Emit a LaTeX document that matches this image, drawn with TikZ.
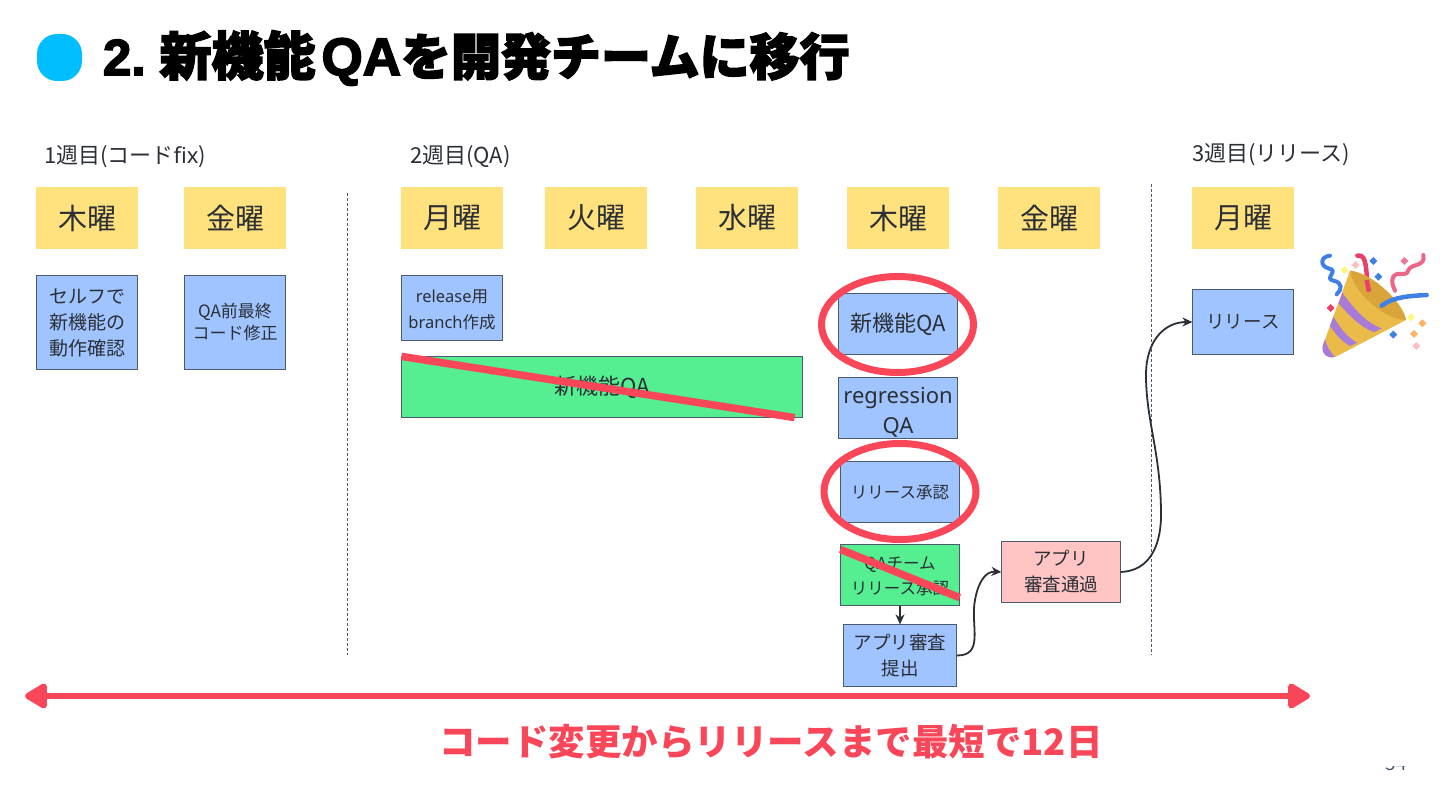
\documentclass[tikz,border=0pt]{standalone}
\usepackage{fontspec}
\setmainfont{Noto Sans CJK JP}
\newfontfamily\lat{Noto Sans}
\newfontfamily\ttlfont[BoldFeatures={FakeBold=3}]{Noto Sans CJK JP}
\newfontfamily\ttllat[BoldFeatures={FakeBold=3}]{Liberation Sans}
\usetikzlibrary{positioning,arrows.meta,shapes.geometric}
\definecolor{dayyellow}{HTML}{FFE17D}
\definecolor{taskblue}{HTML}{9FC4FF}
\definecolor{qagreen}{HTML}{55EE90}
\definecolor{passpink}{HTML}{FFC4C4}
\definecolor{markred}{HTML}{FA4659}
\definecolor{edgegray}{HTML}{4C5A6E}
\definecolor{textgray}{HTML}{2B2F36}
\definecolor{dotblue}{HTML}{00BEFF}
\definecolor{gold}{HTML}{EBBB4A}
\definecolor{golddark}{HTML}{D9A53A}
\definecolor{popviolet}{HTML}{A97BD8}
\definecolor{popblue}{HTML}{3F80E4}
\definecolor{popred}{HTML}{E8406A}
\newcommand{\fsize}[2]{\fontsize{#1}{#2}\selectfont}
\newcommand{\tx}[2][2]{\raisebox{-#1pt}[\height][\depth]{\begin{tabular}{@{}c@{}}#2\end{tabular}}}

\begin{document}
\begin{tikzpicture}[
x=1pt,y=-1pt,
>={Stealth[length=10pt,width=9pt]},
every node/.style={inner sep=0pt,outer sep=0pt,text=textgray},
daybox/.style={fill=dayyellow,minimum width=102pt,minimum height=62pt,font=\fsize{29}{34}},
taskbox/.style={draw=edgegray,line width=0.8pt,fill=#1},
taskbox/.default=taskblue,
sz/.style 2 args={minimum width=#1pt-0.8pt,minimum height=#2pt-0.8pt},
weeklabel/.style={anchor=west,font=\fsize{22}{26}},
divider/.style={densely dashed,draw=edgegray,line width=0.8pt},
conn/.style={->,draw=textgray,line width=1.8pt},
ring/.style={draw=markred,line width=7pt,ellipse,minimum width=152pt,minimum height=96pt},
strike/.style={draw=markred,line width=7.5pt}
]
\useasboundingbox (0,0) rectangle (1440,810);

% title
\node[fill=dotblue,rounded corners=20pt,minimum width=45pt,minimum height=47pt] (dot) at (59.5,57.5) {};
\node[anchor=west,text=black] (title) at (103,58) {\bfseries\fsize{51}{56}{\ttllat 2.}\hspace{14pt}\ttlfont{\fsize{52}{56}新機能}\hspace{6pt}{\ttllat\fsize{53}{56}QA}{\fsize{50}{56}を開発チームに移行}};

% week labels
\node[weeklabel] (w1) at (44,157) {1週目(コード{\lat fix})};
\node[weeklabel] (w2) at (410,157) {2週目(QA)};
\node[weeklabel] (w3) at (1192,155) {3週目(リリース)};

% day headers
\node[daybox] (thu1) at (87,218) {木曜};
\node[daybox,right=46pt of thu1] (fri1) {金曜};
\node[daybox] (mon2) at (452,218) {月曜};
\node[daybox,right=42pt of mon2] (tue2) {火曜};
\node[daybox,right=49pt of tue2] (wed2) {水曜};
\node[daybox,right=49pt of wed2] (thu2) {木曜};
\node[daybox,right=49pt of thu2] (fri2) {金曜};
\node[daybox] (mon3) at (1243,218) {月曜};

% week dividers
\coordinate (d1a) at (347,193);
\coordinate (d1b) at (347,655);
\coordinate (d2a) at (1151,184);
\coordinate (d2b) at (1151,655);
\draw[divider] (d1a) -- (d1b);
\draw[divider] (d2a) -- (d2b);

% tasks
\node[taskbox,sz={102}{95},font=\fsize{19}{26}] (self) at (87,322.5) {\tx{セルフで\\新機能の\\動作確認}};
\node[taskbox,sz={102}{95},font=\fsize{17}{22}] (fixc) at (235,322.5) {\tx{QA前最終\\コード修正}};
\node[taskbox,sz={102}{66},font=\fsize{16.5}{26}] (rel) at (452,308) {\tx{{\lat release}用\\{\lat branch}作成}};
\node[taskbox=qagreen,sz={402}{62},font=\fsize{22}{26}] (gqa) at (602,387) {\tx{新機能QA}};
\node[taskbox,sz={120}{62},font=\fsize{22}{26}] (nqa) at (898,324) {\tx{新機能QA}};
\node[taskbox,sz={120}{62},font=\fsize{22}{30}] (reg) at (898,408) {\tx[4]{{\lat regression}\\{\lat QA}}};
\node[taskbox,sz={120}{62},font=\fsize{16.5}{22}] (appr) at (900,492) {\tx{リリース承認}};
\node[taskbox=qagreen,sz={120}{62},font=\fsize{16.5}{25}] (gappr) at (900,575) {\tx{QAチーム\\リリース承認}};
\node[taskbox,sz={114}{63},font=\fsize{18.5}{26}] (subm) at (900,655.5) {\tx{アプリ審査\\提出}};
\node[taskbox=passpink,sz={120}{62},font=\fsize{18.5}{26}] (pass) at (1061,572) {\tx[1]{アプリ\\審査通過}};
\node[taskbox,sz={102}{66},font=\fsize{18.5}{26}] (ship) at (1243,322) {\tx[1]{リリース}};

% connectors
\draw[conn] (gappr) -- (subm);
\draw[conn] (subm.east) .. controls (985,656) and (970,625) .. (975,600) .. controls (978,583) and (985,571) .. (pass.west);
\coordinate (bend1) at (1161,510);
\coordinate (bend2) at (1146,375);
\draw[conn] (pass.east) .. controls (1150,571) and (1162,545) .. (bend1) .. controls (1160,450) and (1146,420) .. (bend2) .. controls (1146,340) and (1165,322) .. (ship.west);

% red marks
\node[ring] (ring1) at (897.5,324.5) {};
\node[ring] (ring2) at (900,491.5) {};
\draw[strike] (gqa.north west) -- ([xshift=-8pt]gqa.south east);
\draw[strike] ([yshift=-5pt]gappr.north west) -- ([yshift=8pt]gappr.south east);

% span arrow
\coordinate (spanl) at (25,696);
\coordinate (spanr) at (1310,696);
\draw[draw=markred,line width=6pt,{Triangle[length=25pt,width=28pt,round,fill=markred]}-{Triangle[length=25pt,width=28pt,round,fill=markred]}] (spanl) -- (spanr);
\node[text=markred,font=\bfseries\fsize{36.5}{40}] (span) at (771,742) {コード変更からリリースまで最短で12日};

% cut-off page number
\begin{scope}
\clip (1380,766) rectangle (1412,776);
\node[font=\fsize{19}{22},text=edgegray] (page) at (1396,764) {54};
\end{scope}

% party popper
\begin{scope}[shift={(1300,240)},x=0.3333pt,y=-0.3333pt]
\foreach \px/\py/\pc in {133/90/yellow!50!white,167/75/pink,220/63/popblue,235/110/popblue,313/63/popred!70!white,92/204/popred,333/232/yellow!50!white,367/250/orange!60!white,342/282/orange!60!white,280/284/popblue,349/318/pink}
  \fill[\pc] (\px,\py) +(0,-12) -- +(12,0) -- +(0,12) -- +(-12,0) -- cycle;
\draw[popblue,line width=4pt,line cap=round] (90,47) .. controls (60,50) and (60,78) .. (85,85) .. controls (120,92) and (70,115) .. (100,122) .. controls (130,128) and (125,150) .. (110,163);
\draw[popred,line width=4.5pt,line cap=round] (172,47) .. controls (205,40) and (195,100) .. (207,155);
\draw[popred!80!white,line width=4pt,line cap=round] (370,45) .. controls (378,80) and (335,70) .. (325,90) .. controls (320,115) and (295,90) .. (280,110) .. controls (272,125) and (280,140) .. (285,152);
\fill[gold] (150,92) -- (68,318) .. controls (65,345) and (85,358) .. (108,350) -- (318,240) .. controls (310,190) and (220,100) .. (150,92) -- cycle;
\fill[golddark] (150,92) .. controls (155,150) and (250,240) .. (318,240) .. controls (310,190) and (220,100) .. (150,92) -- cycle;
\fill[popviolet] (127,158) .. controls (160,205) and (200,250) .. (245,265) -- (222,277) .. controls (180,260) and (145,225) .. (116,190) -- cycle;
\fill[popviolet] (100,230) .. controls (120,265) and (145,295) .. (172,308) -- (150,318) .. controls (125,305) and (105,280) .. (90,258) -- cycle;
\fill[popviolet] (75,297) .. controls (80,320) and (90,335) .. (105,350) .. controls (85,358) and (65,345) .. (68,318) -- cycle;
\draw[popblue,line width=4.5pt,line cap=round] (245,197) .. controls (280,170) and (330,168) .. (380,165);
\draw[popred,line width=4.5pt] (200,120) -- (207,155);
\end{scope}
\end{tikzpicture}
\end{document}
